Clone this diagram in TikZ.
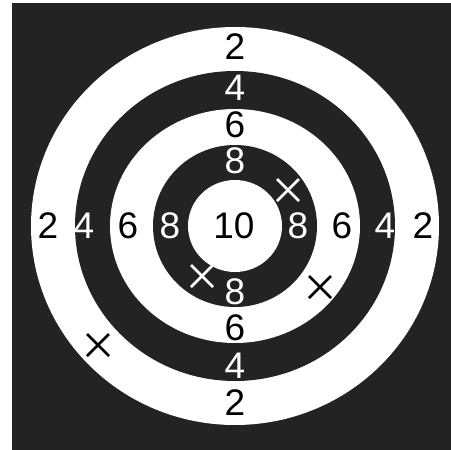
\documentclass[tikz,border=0pt]{standalone}
\usepackage{fontspec}
\setmainfont{Liberation Sans}
\usetikzlibrary{calc}
\definecolor{bg}{HTML}{232323}
\begin{document}
\begin{tikzpicture}[x=1pt,y=-1pt,
  num/.style={inner sep=0pt,font=\fontsize{37}{37}\selectfont},
  onwhite/.style={num,text=black},
  onblack/.style={num,text=white},
  hit/.style={line width=2.6pt},
]
\useasboundingbox (0,0) rectangle (451,450);
\fill[white] (0,0) rectangle (451,450);
\fill[bg] (12,3) rectangle (451,450);
\coordinate (c) at (235,226);
\fill[white] (c) ellipse [x radius=204, y radius=199];
\fill[bg] (c) ellipse [x radius=160, y radius=155];
\fill[white] (c) ellipse [x radius=125, y radius=117];
\fill[bg] (c) ellipse [x radius=82, y radius=81];
\fill[white] (c) ellipse [x radius=47, y radius=46];
% horizontal numbers
\node[onwhite] (l2) at (48,226) {2};
\node[onblack] (l4) at (84,226) {4};
\node[onwhite] (l6) at (128,226) {6};
\node[onblack] (l8) at (170,226) {8};
\node[onwhite] (c10) at (234,226) {10};
\node[onblack] (r8) at (298,226) {8};
\node[onwhite] (r6) at (342,226) {6};
\node[onblack] (r4) at (385,226) {4};
\node[onwhite] (r2) at (423,226) {2};
% vertical numbers
\node[onwhite] (t2) at (235,47) {2};
\node[onblack] (t4) at (235,88) {4};
\node[onwhite] (t6) at (235,125) {6};
\node[onblack] (t8) at (235,161) {8};
\node[onblack] (b8) at (235,292) {8};
\node[onwhite] (b6) at (235,328) {6};
\node[onblack] (b4) at (235,366) {4};
\node[onwhite] (b2) at (235,403) {2};
% hits
\coordinate (h1) at (288,190);
\coordinate (h2) at (202,276);
\coordinate (h3) at (320,287);
\coordinate (h4) at (98,345);
\draw[hit,white] ($(h1)+(-11,-11)$) -- ($(h1)+(11,11)$) ($(h1)+(-11,11)$) -- ($(h1)+(11,-11)$);
\draw[hit,white] ($(h2)+(-11,-11)$) -- ($(h2)+(11,11)$) ($(h2)+(-11,11)$) -- ($(h2)+(11,-11)$);
\draw[hit,black] ($(h3)+(-11,-11)$) -- ($(h3)+(11,11)$) ($(h3)+(-11,11)$) -- ($(h3)+(11,-11)$);
\draw[hit,black] ($(h4)+(-11,-11)$) -- ($(h4)+(11,11)$) ($(h4)+(-11,11)$) -- ($(h4)+(11,-11)$);
\end{tikzpicture}
\end{document}
